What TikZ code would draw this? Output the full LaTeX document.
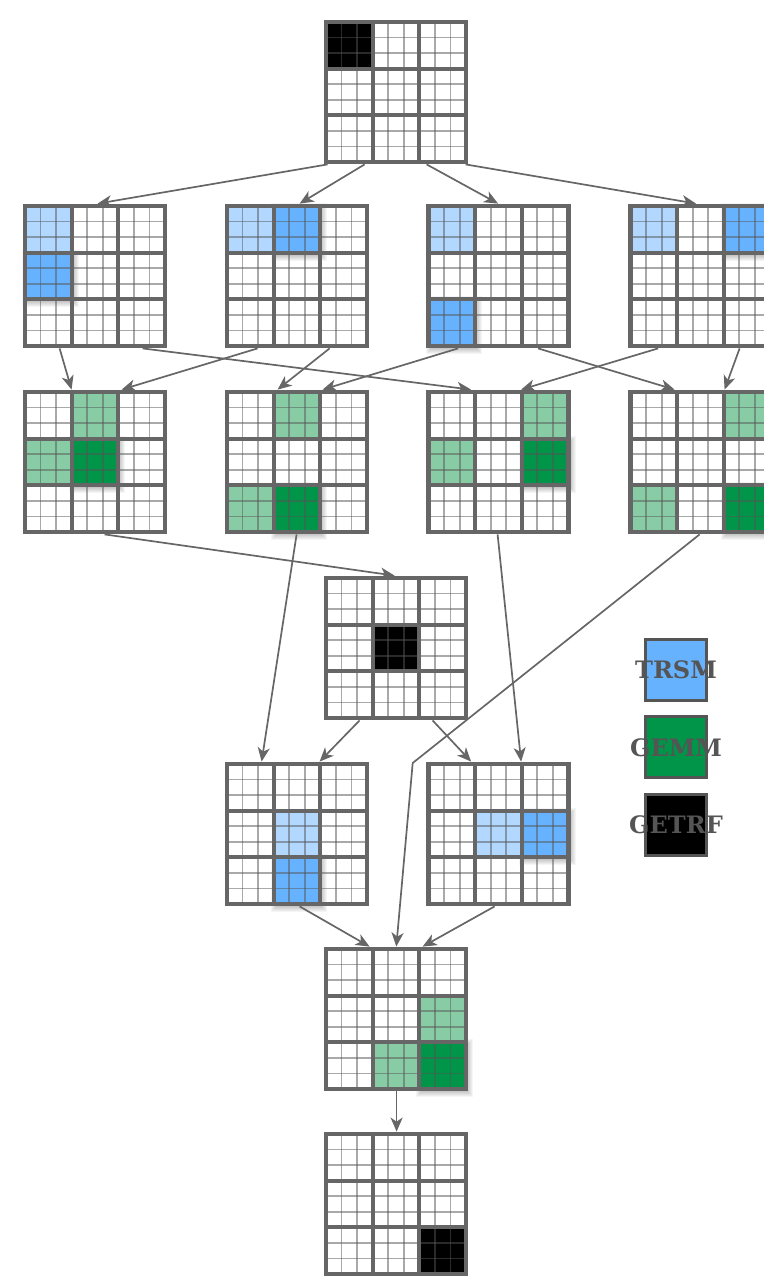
\documentclass[tikz,border=0pt]{standalone}
\usepackage{fontspec}
\setmainfont{DejaVu Serif}
\usetikzlibrary{calc,arrows.meta}
\definecolor{lblue}{HTML}{B3D8FF}
\definecolor{dblue}{HTML}{66B2FF}
\definecolor{lgreen}{HTML}{88CCA6}
\definecolor{dgreen}{HTML}{009548}
\definecolor{thickgray}{HTML}{666666}
\definecolor{thingray}{HTML}{555555}
\definecolor{arrgray}{HTML}{666666}
\definecolor{labgray}{HTML}{555555}
\tikzset{
  thickline/.style={draw=thickgray, line width=2.1pt},
  thinline/.style={draw=thingray, draw opacity=0.5, line width=0.9pt},
  arr/.style={draw=arrgray, line width=0.85pt, -{Stealth[length=7pt,width=6pt,inset=2pt]}},
  legbox/.style={draw=labgray, line width=1.5pt, inner sep=0pt, minimum size=30.5pt},
  leglab/.style={text=labgray, font=\bfseries\fontsize{12pt}{14pt}\selectfont, inner sep=0pt},
  matbox/.style={inner sep=0pt, minimum width=72pt, minimum height=72pt}
}
% #1 name, #2 x, #3 y (top-left of line centres, px), #4 list r/c/colour/shadow
\newcommand{\matx}[4]{%
  \node[matbox] (#1) at (#2+70,#3+70) {};
  \fill[white] (#2,#3) rectangle ++(140,140);
  \foreach \r/\c/\col/\sh in {#4}{%
    \ifnum\sh=1
      \foreach \k in {1,...,6}{%
        \fill[black, opacity=0.04] ($(#2,#3)+(\c*140/3+3-\k,\r*140/3+3-\k)$) rectangle ($(#2,#3)+(\c*140/3+140/3+1+\k,\r*140/3+140/3+2+\k)$);
      }%
    \fi
  }%
  \foreach \r/\c/\col/\sh in {#4}{%
    \fill[\col] ($(#2,#3)+(\c*140/3,\r*140/3)$) rectangle ++(140/3,140/3);
  }%
  \foreach \k in {1,2,4,5,7,8}{%
    \draw[thinline] (#2+\k*140/9,#3) -- ++(0,140);
    \draw[thinline] (#2,#3+\k*140/9) -- ++(140,0);
  }%
  \foreach \k in {1,2}{%
    \draw[thickline] (#2+\k*140/3,#3) -- ++(0,140);
    \draw[thickline] (#2,#3+\k*140/3) -- ++(140,0);
  }%
  \draw[thickline, line join=miter] (#2,#3) rectangle ++(140,140);
}
\begin{document}
\begin{tikzpicture}[x=0.5pt, y=-0.5pt]
\useasboundingbox (0,0) rectangle (764,1280);
\clip (0,0) rectangle (764,1280);

\matx{M0}{326}{22}{0/0/black/0}
\matx{A1}{25}{206}{0/0/lblue/0, 1/0/dblue/1}
\matx{A2}{227}{206}{0/0/lblue/0, 0/1/dblue/1}
\matx{A3}{428.5}{206}{0/0/lblue/0, 2/0/dblue/1}
\matx{A4}{630.5}{206}{0/0/lblue/0, 0/2/dblue/1}
\matx{B1}{25}{392}{0/1/lgreen/0, 1/0/lgreen/0, 1/1/dgreen/1}
\matx{B2}{227}{392}{0/1/lgreen/0, 2/0/lgreen/0, 2/1/dgreen/1}
\matx{B3}{428.5}{392}{0/2/lgreen/0, 1/0/lgreen/0, 1/2/dgreen/1}
\matx{B4}{630.5}{392}{0/2/lgreen/0, 2/0/lgreen/0, 2/2/dgreen/1}
\matx{C}{326}{578}{1/1/black/0}
\matx{D1}{227}{764}{1/1/lblue/0, 2/1/dblue/1}
\matx{D2}{428.5}{764}{1/1/lblue/0, 1/2/dblue/1}
\matx{E}{326}{949}{1/2/lgreen/0, 2/1/lgreen/0, 2/2/dgreen/1}
\matx{F}{326}{1134}{2/2/black/0}

% edges
\draw[arr] ($(M0.south west)+(4,0)$) -- ($(A1.north west)+(75,0)$);
\draw[arr] ($(M0.south west)+(41,0)$) -- ($(A2.north west)+(75,0)$);
\draw[arr] ($(M0.south west)+(103,0)$) -- ($(A3.north west)+(72,0)$);
\draw[arr] ($(M0.south west)+(142,0)$) -- ($(A4.north west)+(68,0)$);

\draw[arr] ($(A1.south west)+(37,0)$) -- ($(B1.north west)+(49,0)$);
\draw[arr] ($(A1.south west)+(120,0)$) -- ($(B3.north west)+(45,0)$);
\draw[arr] ($(A2.south west)+(33,0)$) -- ($(B1.north west)+(99,0)$);
\draw[arr] ($(A2.south west)+(105,0)$) -- ($(B2.north west)+(53,0)$);
\draw[arr] ($(A3.south west)+(32,0)$) -- ($(B2.north west)+(98,0)$);
\draw[arr] ($(A3.south west)+(112,0)$) -- ($(B4.north west)+(46.5,0)$);
\draw[arr] ($(A4.south west)+(30,0)$) -- ($(B3.north west)+(95,0)$);
\draw[arr] ($(A4.south west)+(111.5,0)$) -- ($(B4.north west)+(96.5,0)$);

\draw[arr] ($(B1.south west)+(82,0)$) -- ($(C.north west)+(71,0)$);
\draw[arr] ($(B2.south west)+(72,0)$) -- ($(D1.north west)+(37,0)$);
\draw[arr] ($(B3.south west)+(71.5,0)$) -- ($(D2.north west)+(95,0)$);
\coordinate (bend) at (412.7,763);
\draw[arr] ($(B4.south west)+(71.5,0)$) -- (bend) -- ($(E.north west)+(72.7,0)$);

\draw[arr] ($(C.south west)+(36,0)$) -- ($(D1.north west)+(95,0)$);
\draw[arr] ($(C.south west)+(109,0)$) -- ($(D2.north west)+(45,0)$);
\draw[arr] ($(D1.south west)+(75,0)$) -- ($(E.north west)+(46,0)$);
\draw[arr] ($(D2.south west)+(68.5,0)$) -- ($(E.north west)+(99,0)$);
\draw[arr] ($(E.south west)+(73,0)$) -- ($(F.north west)+(73,0)$);

% legend
\node[legbox, fill=dblue] (L1) at (676,670) {};
\node[legbox, fill=dgreen] (L2) at (676,746.5) {};
\node[legbox, fill=black] (L3) at (676,824.7) {};
\node[leglab] (T1) at (676,670) {TRSM};
\node[leglab] (T2) at (676,748) {GEMM};
\node[leglab] (T3) at (676,825) {GETRF};
\end{tikzpicture}
\end{document}
